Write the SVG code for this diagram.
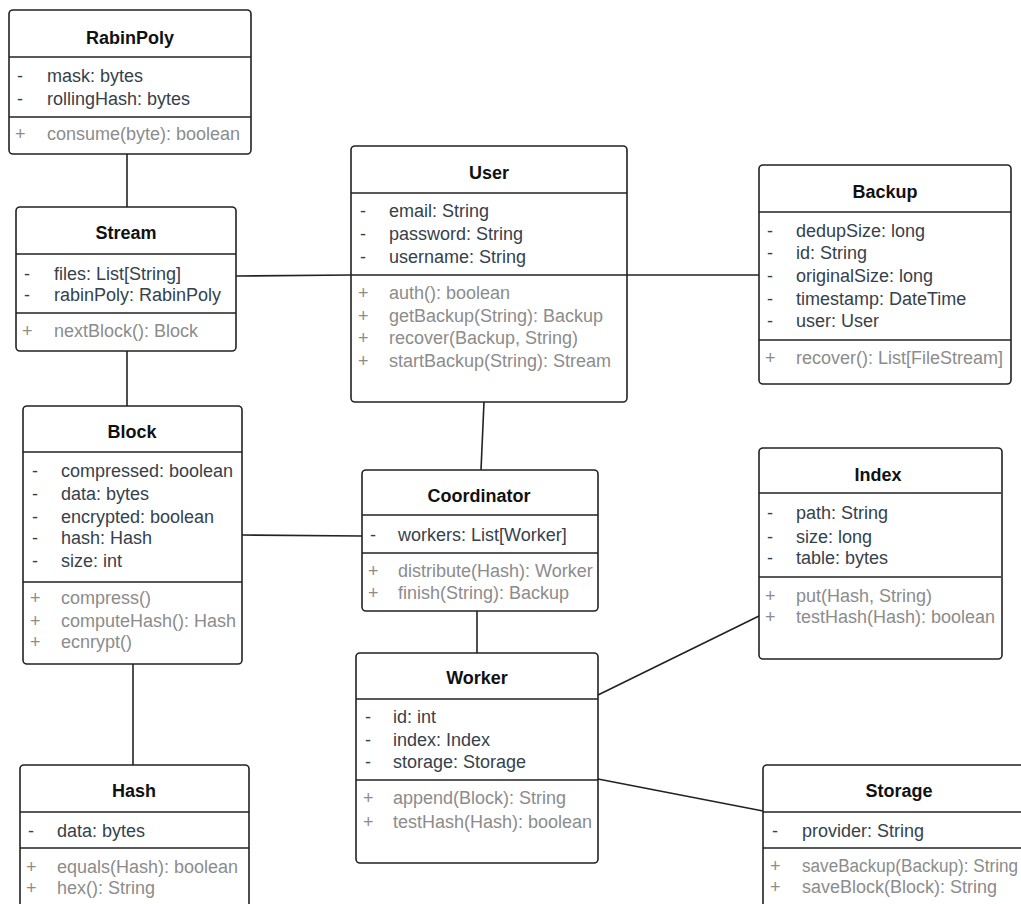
<svg xmlns="http://www.w3.org/2000/svg" width="1021" height="904" viewBox="0 0 1021 904">
<style>
.box{fill:#fff;stroke:#222;stroke-width:1.6}
.sep{stroke:#222;stroke-width:1.6}
.conn{stroke:#222;stroke-width:1.6;fill:none}
text{font-family:"Liberation Sans",Arial,sans-serif;font-size:18px}
.title{font-weight:bold;fill:#111;text-anchor:middle}
.attr{fill:#36414b}
.meth{fill:#8c8c8c}
</style>
<rect width="1021" height="904" fill="#fff"/>
<g id="connectors">
<line class="conn" x1="127" y1="154" x2="127" y2="207"/>
<line class="conn" x1="127" y1="351" x2="127" y2="406"/>
<line class="conn" x1="236" y1="276" x2="351" y2="275"/>
<line class="conn" x1="627" y1="275" x2="759" y2="275"/>
<line class="conn" x1="484" y1="402" x2="481" y2="470"/>
<line class="conn" x1="242" y1="535" x2="362" y2="536"/>
<line class="conn" x1="477" y1="611" x2="477" y2="653"/>
<line class="conn" x1="598" y1="695" x2="759" y2="616"/>
<line class="conn" x1="598" y1="779" x2="763" y2="811"/>
<line class="conn" x1="133" y1="664" x2="133" y2="765"/>
</g>
<g id="RabinPoly">
<rect class="box" x="9" y="10" width="242" height="144" rx="4"/>
<line class="sep" x1="9" y1="57" x2="251" y2="57"/>
<line class="sep" x1="9" y1="117" x2="251" y2="117"/>
<text class="title" x="130" y="44">RabinPoly</text>
<text class="attr" x="17" y="82">-</text><text class="attr" x="47" y="82">mask: bytes</text>
<text class="attr" x="17" y="105">-</text><text class="attr" x="47" y="105">rollingHash: bytes</text>
<text class="meth" x="15" y="140">+</text><text class="meth" x="47" y="140">consume(byte): boolean</text>
</g>
<g id="Stream">
<rect class="box" x="16" y="207" width="220" height="144" rx="4"/>
<line class="sep" x1="16" y1="254" x2="236" y2="254"/>
<line class="sep" x1="16" y1="313" x2="236" y2="313"/>
<text class="title" x="126" y="239">Stream</text>
<text class="attr" x="24" y="280">-</text><text class="attr" x="54" y="280">files: List[String]</text>
<text class="attr" x="24" y="301">-</text><text class="attr" x="54" y="301">rabinPoly: RabinPoly</text>
<text class="meth" x="22" y="337">+</text><text class="meth" x="54" y="337">nextBlock(): Block</text>
</g>
<g id="User">
<rect class="box" x="351" y="146" width="276" height="256" rx="4"/>
<line class="sep" x1="351" y1="193" x2="627" y2="193"/>
<line class="sep" x1="351" y1="275" x2="627" y2="275"/>
<text class="title" x="489" y="179">User</text>
<text class="attr" x="360" y="217">-</text><text class="attr" x="389" y="217">email: String</text>
<text class="attr" x="360" y="240">-</text><text class="attr" x="389" y="240">password: String</text>
<text class="attr" x="360" y="263">-</text><text class="attr" x="389" y="263">username: String</text>
<text class="meth" x="358" y="299">+</text><text class="meth" x="389" y="299">auth(): boolean</text>
<text class="meth" x="358" y="322">+</text><text class="meth" x="389" y="322">getBackup(String): Backup</text>
<text class="meth" x="358" y="344">+</text><text class="meth" x="389" y="344">recover(Backup, String)</text>
<text class="meth" x="358" y="367">+</text><text class="meth" x="389" y="367">startBackup(String): Stream</text>
</g>
<g id="Backup">
<rect class="box" x="759" y="165" width="252" height="219" rx="4"/>
<line class="sep" x1="759" y1="212" x2="1011" y2="212"/>
<line class="sep" x1="759" y1="340" x2="1011" y2="340"/>
<text class="title" x="885" y="198">Backup</text>
<text class="attr" x="767" y="237">-</text><text class="attr" x="796" y="237">dedupSize: long</text>
<text class="attr" x="767" y="259">-</text><text class="attr" x="796" y="259">id: String</text>
<text class="attr" x="767" y="282">-</text><text class="attr" x="796" y="282">originalSize: long</text>
<text class="attr" x="767" y="305">-</text><text class="attr" x="796" y="305">timestamp: DateTime</text>
<text class="attr" x="767" y="327">-</text><text class="attr" x="796" y="327">user: User</text>
<text class="meth" x="765" y="364">+</text><text class="meth" x="796" y="364">recover(): List[FileStream]</text>
</g>
<g id="Block">
<rect class="box" x="23" y="406" width="219" height="258" rx="4"/>
<line class="sep" x1="23" y1="452" x2="242" y2="452"/>
<line class="sep" x1="23" y1="582" x2="242" y2="582"/>
<text class="title" x="132" y="438">Block</text>
<text class="attr" x="32" y="477">-</text><text class="attr" x="61" y="477">compressed: boolean</text>
<text class="attr" x="32" y="500">-</text><text class="attr" x="61" y="500">data: bytes</text>
<text class="attr" x="32" y="523">-</text><text class="attr" x="61" y="523">encrypted: boolean</text>
<text class="attr" x="32" y="544">-</text><text class="attr" x="61" y="544">hash: Hash</text>
<text class="attr" x="32" y="567">-</text><text class="attr" x="61" y="567">size: int</text>
<text class="meth" x="30" y="604">+</text><text class="meth" x="61" y="604">compress()</text>
<text class="meth" x="30" y="627">+</text><text class="meth" x="61" y="627">computeHash(): Hash</text>
<text class="meth" x="30" y="648">+</text><text class="meth" x="61" y="648">ecnrypt()</text>
</g>
<g id="Coordinator">
<rect class="box" x="362" y="470" width="236" height="141" rx="4"/>
<line class="sep" x1="362" y1="515" x2="598" y2="515"/>
<line class="sep" x1="362" y1="553" x2="598" y2="553"/>
<text class="title" x="479" y="502">Coordinator</text>
<text class="attr" x="370" y="541">-</text><text class="attr" x="398" y="541">workers: List[Worker]</text>
<text class="meth" x="368" y="577">+</text><text class="meth" x="398" y="577">distribute(Hash): Worker</text>
<text class="meth" x="368" y="599">+</text><text class="meth" x="398" y="599">finish(String): Backup</text>
</g>
<g id="Worker">
<rect class="box" x="356" y="653" width="242" height="210" rx="4"/>
<line class="sep" x1="356" y1="699" x2="598" y2="699"/>
<line class="sep" x1="356" y1="780" x2="598" y2="780"/>
<text class="title" x="477" y="684">Worker</text>
<text class="attr" x="365" y="723">-</text><text class="attr" x="393" y="723">id: int</text>
<text class="attr" x="365" y="746">-</text><text class="attr" x="393" y="746">index: Index</text>
<text class="attr" x="365" y="768">-</text><text class="attr" x="393" y="768">storage: Storage</text>
<text class="meth" x="363" y="804">+</text><text class="meth" x="393" y="804">append(Block): String</text>
<text class="meth" x="363" y="828">+</text><text class="meth" x="393" y="828">testHash(Hash): boolean</text>
</g>
<g id="Index">
<rect class="box" x="759" y="448" width="243" height="211" rx="4"/>
<line class="sep" x1="759" y1="493" x2="1001" y2="493"/>
<line class="sep" x1="759" y1="577" x2="1001" y2="577"/>
<text class="title" x="878" y="481">Index</text>
<text class="attr" x="767" y="519">-</text><text class="attr" x="796" y="519">path: String</text>
<text class="attr" x="767" y="543">-</text><text class="attr" x="796" y="543">size: long</text>
<text class="attr" x="767" y="564">-</text><text class="attr" x="796" y="564">table: bytes</text>
<text class="meth" x="765" y="602">+</text><text class="meth" x="796" y="602">put(Hash, String)</text>
<text class="meth" x="765" y="623">+</text><text class="meth" x="796" y="623">testHash(Hash): boolean</text>
</g>
<g id="Storage">
<rect class="box" x="763" y="765" width="272" height="160" rx="4"/>
<line class="sep" x1="763" y1="812" x2="1035" y2="812"/>
<line class="sep" x1="763" y1="848" x2="1035" y2="848"/>
<text class="title" x="899" y="797">Storage</text>
<text class="attr" x="772" y="837">-</text><text class="attr" x="802" y="837">provider: String</text>
<text class="meth" x="770" y="872">+</text><text class="meth" x="802" y="872" textLength="216" lengthAdjust="spacingAndGlyphs">saveBackup(Backup): String</text>
<text class="meth" x="770" y="893">+</text><text class="meth" x="802" y="893">saveBlock(Block): String</text>
</g>
<g id="Hash">
<rect class="box" x="20" y="765" width="229" height="160" rx="4"/>
<line class="sep" x1="20" y1="812" x2="249" y2="812"/>
<line class="sep" x1="20" y1="848" x2="249" y2="848"/>
<text class="title" x="134" y="797">Hash</text>
<text class="attr" x="28" y="837">-</text><text class="attr" x="57" y="837">data: bytes</text>
<text class="meth" x="26" y="873">+</text><text class="meth" x="57" y="873">equals(Hash): boolean</text>
<text class="meth" x="26" y="894">+</text><text class="meth" x="57" y="894">hex(): String</text>
</g>
</svg>
